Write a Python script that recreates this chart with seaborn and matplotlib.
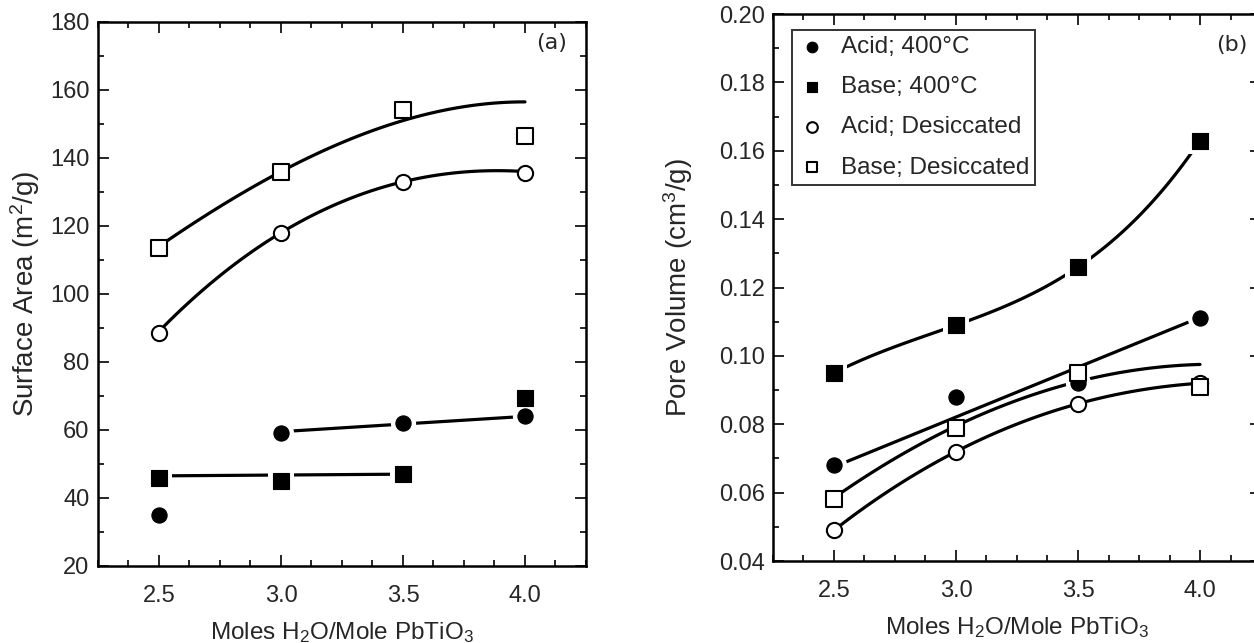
import numpy as np
import pandas as pd
import matplotlib
matplotlib.use("Agg")
import matplotlib.pyplot as plt
from matplotlib.ticker import MultipleLocator
import seaborn as sns

# x values shared by every series
moles = [2.5, 3.0, 3.5, 4.0]

# (a) surface area, m2/g
sa_acid_400 = [35, 59, 62, 64]
sa_base_400 = [46, 45, 47, 69.5]
sa_acid_des = [88.5, 118, 133, 135.5]
sa_base_des = [113.5, 136, 154, 146.5]

# (a) drawn trend curves
sa_curve_base_des_x = [2.5, 3.0, 3.5, 4.0]
sa_curve_base_des_y = [114, 136, 151, 156.5]
sa_curve_acid_des_x = [2.5, 3.0, 3.5, 4.0]
sa_curve_acid_des_y = [89, 118, 133, 136]
sa_curve_acid_400_x = [3.0, 4.0]
sa_curve_acid_400_y = [59.5, 64]
sa_curve_base_400_x = [2.5, 3.5]
sa_curve_base_400_y = [46.5, 47]

# (b) pore volume, cm3/g
pv_acid_400 = [0.068, 0.088, 0.092, 0.111]
pv_base_400 = [0.095, 0.109, 0.126, 0.163]
pv_acid_des = [0.049, 0.072, 0.086, 0.092]
pv_base_des = [0.058, 0.079, 0.095, 0.091]

# (b) drawn trend curves
pv_curve_base_400_x = [2.5, 3.0, 3.5, 4.0]
pv_curve_base_400_y = [0.095, 0.109, 0.126, 0.163]
pv_curve_acid_400_x = [2.55, 3.95]
pv_curve_acid_400_y = [0.069, 0.1098]
pv_curve_base_des_x = [2.5, 3.0, 3.5, 4.0]
pv_curve_base_des_y = [0.0585, 0.0795, 0.0925, 0.0975]
pv_curve_acid_des_x = [2.5, 3.0, 3.5, 4.0]
pv_curve_acid_des_y = [0.049, 0.072, 0.086, 0.092]

legend_labels = ["Acid; 400°C", "Base; 400°C", "Acid; Desiccated", "Base; Desiccated"]

sns.set_theme(style="ticks")
plt.rcParams["font.family"] = ["Liberation Sans", "DejaVu Sans"]
plt.rcParams["mathtext.default"] = "regular"

fig = plt.figure(figsize=(12.54, 6.43), dpi=100)
ax1 = fig.add_axes([0.0781, 0.1198, 0.3892, 0.846])
ax2 = fig.add_axes([0.6164, 0.1275, 0.3892, 0.8507])


def smooth(ax, xs, ys):
    # smooth curve through the read anchor points
    deg = min(len(xs) - 1, 3)
    coef = np.polyfit(xs, ys, deg)
    xx = np.linspace(xs[0], xs[-1], 120)
    df = pd.DataFrame({"x": xx, "y": np.polyval(coef, xx)})
    sns.lineplot(data=df, x="x", y="y", ax=ax, color="black", lw=2.3, zorder=2)


def points(ax, ys, marker, filled, label=None):
    df = pd.DataFrame({"x": moles, "y": ys})
    if filled:
        # white halo so the curves break around solid markers
        sns.scatterplot(data=df, x="x", y="y", ax=ax, marker=marker, s=330,
                        color="white", edgecolor="white", linewidth=0, zorder=3)
        sns.scatterplot(data=df, x="x", y="y", ax=ax, marker=marker, s=120,
                        color="black", edgecolor="black", linewidth=0.8,
                        zorder=4, label=label)
    else:
        sns.scatterplot(data=df, x="x", y="y", ax=ax, marker=marker, s=120,
                        color="white", edgecolor="black", linewidth=1.5,
                        zorder=5, label=label)


# ---- panel (a)
smooth(ax1, sa_curve_base_des_x, sa_curve_base_des_y)
smooth(ax1, sa_curve_acid_des_x, sa_curve_acid_des_y)
smooth(ax1, sa_curve_acid_400_x, sa_curve_acid_400_y)
smooth(ax1, sa_curve_base_400_x, sa_curve_base_400_y)
points(ax1, sa_acid_400, "o", True)
points(ax1, sa_base_400, "s", True)
points(ax1, sa_acid_des, "o", False)
points(ax1, sa_base_des, "s", False)

# ---- panel (b)
smooth(ax2, pv_curve_base_400_x, pv_curve_base_400_y)
smooth(ax2, pv_curve_acid_400_x, pv_curve_acid_400_y)
smooth(ax2, pv_curve_base_des_x, pv_curve_base_des_y)
smooth(ax2, pv_curve_acid_des_x, pv_curve_acid_des_y)
points(ax2, pv_acid_400, "o", True, legend_labels[0])
points(ax2, pv_base_400, "s", True, legend_labels[1])
points(ax2, pv_acid_des, "o", False, legend_labels[2])
points(ax2, pv_base_des, "s", False, legend_labels[3])

for ax in (ax1, ax2):
    ax.set_xlim(2.25, 4.25)
    ax.set_xticks(moles)
    ax.set_xticklabels([f"{m:.1f}" for m in moles])
    ax.xaxis.set_minor_locator(MultipleLocator(0.125))
    ax.tick_params(which="both", direction="in", top=True, right=True,
                   width=1.4, labelsize=17)
    ax.tick_params(which="major", length=8)
    ax.tick_params(which="minor", length=4)
    ax.tick_params(axis="x", pad=14)
    ax.tick_params(axis="y", pad=6)
    for sp in ax.spines.values():
        sp.set_linewidth(1.8)
        sp.set_color("black")
    ax.set_xlabel(r"Moles H$_2$O/Mole PbTiO$_3$", fontsize=17.5, labelpad=9)

ax1.set_ylim(20, 180)
ax1.set_yticks(range(20, 181, 20))
ax1.yaxis.set_minor_locator(MultipleLocator(10))
ax1.set_ylabel(r"Surface Area (m$^2$/g)", fontsize=20, labelpad=6)
ax1.text(0.93, 0.962, "(a)", transform=ax1.transAxes, fontsize=16,
         ha="center", va="center", family="DejaVu Sans")

ax2.set_ylim(0.04, 0.20)
ax2.set_yticks(np.arange(0.04, 0.201, 0.02))
ax2.set_yticklabels([f"{v:.2f}" for v in np.arange(0.04, 0.201, 0.02)])
ax2.yaxis.set_minor_locator(MultipleLocator(0.01))
ax2.set_ylabel(r"Pore Volume (cm$^3$/g)", fontsize=20, labelpad=17)
ax2.text(0.94, 0.943, "(b)", transform=ax2.transAxes, fontsize=16,
         ha="center", va="center", family="DejaVu Sans")

leg = ax2.legend(loc="upper left", bbox_to_anchor=(0.039, 0.971),
                 borderaxespad=0, fontsize=17.5, labelspacing=0.75,
                 handletextpad=0.58, handlelength=1.17, borderpad=0.25,
                 frameon=True, fancybox=False, markerscale=0.7)
leg.get_frame().set_edgecolor("black")
leg.get_frame().set_linewidth(1.4)

fig.savefig("out.png", dpi=100)
